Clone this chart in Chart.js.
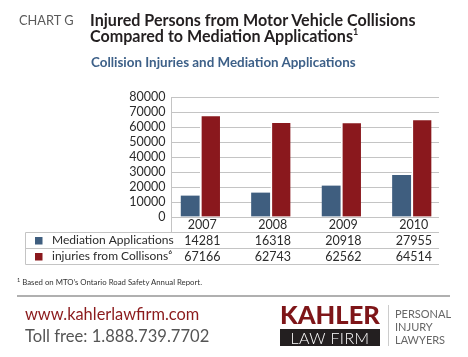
<!DOCTYPE html>
<html>
<head>
<meta charset="utf-8">
<script src="https://cdn.jsdelivr.net/npm/chart.js@4/dist/chart.umd.min.js"></script>
<style>
  html, body { margin: 0; padding: 0; background: #fff; }
  body { width: 468px; height: 357px; position: relative; overflow: hidden; font-family: Lato, "Open Sans", sans-serif; }
  #wrap { position: absolute; left: 0; top: 0; width: 468px; height: 357px; }
  .t { position: absolute; white-space: nowrap; line-height: 1; }
  #chartg { left: 19px; top: 14px; font-size: 12.8px; color: #5a5a5a; }
  #title1 { left: 90px; top: 12px; font-size: 16.1px; font-weight: 700; color: #231f20; }
  #title2 { left: 90px; top: 28px; font-size: 16.1px; font-weight: 700; color: #231f20; }
  #title2 sup { font-size: 9px; vertical-align: 7px; line-height: 0; }
  #sub { left: 91px; top: 56px; font-size: 13.4px; font-weight: 700; color: #3d6088; }
  #foot { left: 17px; top: 279px; font-size: 7.8px; color: #333; }
  #foot sup { font-size: 5.5px; vertical-align: 3px; line-height: 0; }
  #rule { position: absolute; left: 17px; top: 295px; width: 433px; height: 2px; background: #b0b0b0; }
  #web { left: 25px; top: 306px; font-size: 16.4px; color: #8b1a1c; }
  #toll { left: 25px; top: 328px; font-size: 16.6px; color: #555; }
  #kahler { left: 280px; top: 302px; font-size: 25.5px; font-weight: 900; color: #7e1518; }
  #lawbox { position: absolute; left: 280px; top: 329px; width: 100px; height: 17px; background: #231f20; }
  #lawfirm { left: 280px; top: 329px; width: 100px; text-align: center; font-size: 16px; font-weight: 300; color: #fff; letter-spacing: 0.4px; line-height: 17px; }
  #vline { position: absolute; left: 388px; top: 305px; width: 1px; height: 41px; background: #ccc; }
  .pil { left: 395px; font-size: 11px; color: #666; letter-spacing: 0px; }
</style>
</head>
<body>
<div id="wrap"><canvas id="c" width="468" height="357"></canvas></div>
<div class="t" id="chartg">CHART G</div>
<div class="t" id="title1">Injured Persons from Motor Vehicle Collisions</div>
<div class="t" id="title2">Compared to Mediation Applications<sup>1</sup></div>
<div class="t" id="sub">Collision Injuries and Mediation Applications</div>
<div class="t" id="foot"><sup>1</sup> Based on MTO’s Ontario Road Safety Annual Report.</div>
<div id="rule"></div>
<div class="t" id="web">www.kahlerlawfirm.com</div>
<div class="t" id="toll">Toll free: 1.888.739.7702</div>
<div class="t" id="kahler">KAHLER</div>
<div id="lawbox"></div>
<div class="t" id="lawfirm">LAW FIRM</div>
<div id="vline"></div>
<div class="t pil" style="top:308px">PERSONAL</div>
<div class="t pil" style="top:321px">INJURY</div>
<div class="t pil" style="top:334px">LAWYERS</div>
<script>
// ---- data ----
const years = ['2007', '2008', '2009', '2010'];
const mediationApplications = [14281, 16318, 20918, 27955];
const injuriesFromCollisions = [67166, 62743, 62562, 64514];
const seriesNames = ['Mediation Applications', 'injuries from Collisons⁶'];
const yMin = 0, yMax = 80000, yStep = 10000;

const BLUE = '#3f5e7f';
const RED = '#8a181d';
const LINE = '#c4c4c4';
const FONT = 'Lato, "Open Sans", sans-serif';
const TXT = '#2b2b2b';

const tablePlugin = {
  id: 'dataTable',
  afterDraw(chart) {
    const ctx = chart.ctx;
    const xs = chart.scales.x;
    const area = chart.chartArea;
    const left = 25.5, right = area.right;
    const rTop = 232.5, rMid = 248.5, rBot = 264.5;
    ctx.save();
    ctx.strokeStyle = LINE;
    ctx.lineWidth = 1;
    ctx.beginPath();
    ctx.moveTo(Math.round(area.left) + 0.5, area.bottom);
    ctx.lineTo(Math.round(area.left) + 0.5, rTop);
    ctx.moveTo(left, rTop); ctx.lineTo(right, rTop);
    ctx.moveTo(left, rMid); ctx.lineTo(right, rMid);
    ctx.moveTo(left, rBot); ctx.lineTo(right, rBot);
    ctx.moveTo(left, rTop); ctx.lineTo(left, rBot);
    ctx.stroke();

    ctx.font = '12.5px ' + FONT;
    ctx.fillStyle = TXT;
    ctx.textBaseline = 'middle';
    ctx.textAlign = 'center';
    years.forEach((y, i) => {
      const px = xs.getPixelForValue(i) + 2;
      ctx.fillText(y, px, 225);
      ctx.fillText(String(mediationApplications[i]), px, 241);
      ctx.fillText(String(injuriesFromCollisions[i]), px, 257);
    });
    const colors = [BLUE, RED];
    const rowsY = [240.5, 256.5];
    ctx.font = '12px ' + FONT;
    ctx.textAlign = 'left';
    seriesNames.forEach((name, k) => {
      ctx.fillStyle = colors[k];
      ctx.fillRect(35, rowsY[k] - 3.5, 7.5, 7.5);
      ctx.fillStyle = TXT;
      ctx.fillText(name, 52, rowsY[k]);
    });
    ctx.restore();
  }
};

new Chart(document.getElementById('c'), {
  type: 'bar',
  data: {
    datasets: [
      {
        label: seriesNames[0],
        data: mediationApplications.map((v, i) => ({ x: i, y: v })),
        backgroundColor: BLUE,
        borderColor: '#ffffff',
        borderWidth: { left: 0, right: 1.05, top: 0, bottom: 0 },
        borderSkipped: false,
        barThickness: 19.65
      },
      {
        label: seriesNames[1],
        data: injuriesFromCollisions.map((v, i) => ({ x: i, y: v })),
        backgroundColor: RED,
        borderColor: '#ffffff',
        borderWidth: { left: 1.65, right: 0, top: 0, bottom: 0 },
        borderSkipped: false,
        barThickness: 19.65
      }
    ]
  },
  options: {
    responsive: false,
    animation: false,
    devicePixelRatio: 1,
    layout: { padding: { left: 0, top: 97, right: 29, bottom: 140 } },
    plugins: { legend: { display: false }, tooltip: { enabled: false }, title: { display: false } },
    scales: {
      x: {
        type: 'linear',
        display: false,
        min: -0.416,
        max: 3.386,
        offset: false
      },
      y: {
        min: yMin,
        max: yMax,
        afterFit(scale) { scale.width = 171; },
        grid: { color: LINE, drawTicks: false, lineWidth: 1 },
        border: { display: true, color: LINE },
        ticks: {
          stepSize: yStep,
          autoSkip: false,
          padding: 5.5,
          color: TXT,
          font: { family: FONT, size: 12.5 },
          callback: v => String(v)
        }
      }
    }
  },
  plugins: [tablePlugin]
});
</script>
</body>
</html>
